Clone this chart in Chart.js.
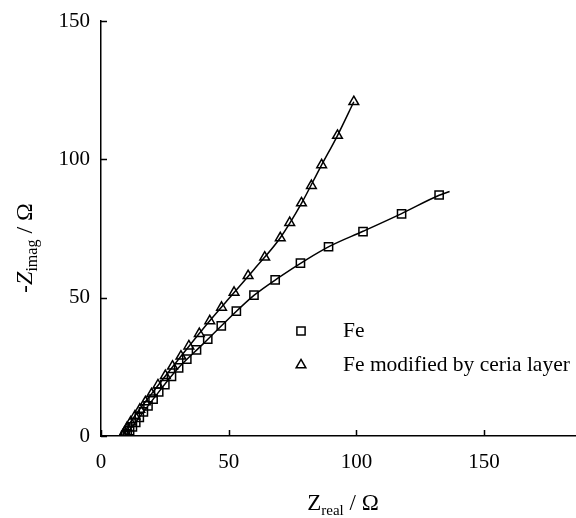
<!DOCTYPE html>
<html>
<head>
<meta charset="utf-8">
<script src="https://cdn.jsdelivr.net/npm/chart.js@4.4.1/dist/chart.umd.min.js"></script>
<style>
  html, body { margin: 0; padding: 0; background: #fff; }
  #wrap { width: 576px; height: 518px; position: relative; }
</style>
</head>
<body>
<div id="wrap"><canvas id="c" width="576" height="518"></canvas></div>
<script>
// ---- data ----
const feX = [9.6, 10.3, 11.2, 12.3, 13.6, 15.0, 16.6, 18.4, 20.4, 22.6, 25.0, 27.6, 30.4, 33.6, 37.4, 41.8, 47.1, 53.0, 59.9, 68.2, 78.1, 89.1, 102.6, 117.7, 132.4];
const feY = [0.1, 0.8, 1.9, 3.3, 4.9, 6.7, 8.7, 10.9, 13.3, 15.9, 18.6, 21.5, 24.6, 27.8, 31.1, 35.0, 39.8, 45.1, 50.9, 56.4, 62.5, 68.4, 73.9, 80.3, 87.1];
const ceX = [8.5, 9.2, 10.2, 11.6, 13.3, 15.2, 17.4, 19.8, 22.3, 25.2, 28.0, 31.3, 34.4, 38.5, 42.6, 47.2, 52.1, 57.6, 64.1, 70.2, 73.9, 78.5, 82.4, 86.4, 92.6, 99.0];
const ceY = [0.2, 1.3, 3.0, 5.0, 7.2, 9.6, 12.3, 15.2, 18.4, 21.8, 25.2, 28.8, 32.5, 37.0, 41.6, 46.5, 51.9, 57.9, 64.6, 71.6, 77.1, 84.2, 90.5, 98.0, 108.6, 120.8];
// fitted curves
const feFitX = [9.5, 13, 20, 30, 40, 50, 60, 70, 80, 90, 102.6, 117.7, 132.4, 136.5];
const feFitY = [0, 4.3, 12.8, 24.3, 33.3, 42.4, 50.9, 57.5, 63.5, 68.8, 74.0, 80.4, 87.0, 88.4];
const ceFitX = [8.5, 12, 20, 30, 40, 50, 60, 70, 78.5, 86, 92.6, 99];
const ceFitY = [0, 5.6, 15.5, 27.3, 38.8, 49.6, 60.3, 71.4, 84.1, 97.3, 108.6, 120.8];
const xTicks = [0, 50, 100, 150];
const yTicks = [0, 50, 100, 150];
const legendLabels = ['Fe', 'Fe modified by ceria layer'];

const SERIF = "'Liberation Serif', 'Times New Roman', serif";
const toPts = (xs, ys) => xs.map((x, i) => ({ x: x, y: ys[i] }));

const inwardTicks = {
  id: 'inwardTicks',
  afterDraw(chart) {
    const ctx = chart.ctx, a = chart.chartArea;
    const xs = chart.scales.x, ys = chart.scales.y;
    ctx.save();
    ctx.strokeStyle = '#000';
    ctx.lineWidth = 1.5;
    ctx.beginPath();
    xs.ticks.forEach(t => {
      const px = Math.round(xs.getPixelForValue(t.value)) + 0.5;
      ctx.moveTo(px, a.bottom);
      ctx.lineTo(px, a.bottom - 6);
    });
    ys.ticks.forEach(t => {
      const py = Math.round(ys.getPixelForValue(t.value)) + 0.5;
      ctx.moveTo(a.left, py);
      ctx.lineTo(a.left + 6, py);
    });
    ctx.stroke();

    // axis titles with subscripts
    ctx.fillStyle = '#000';
    ctx.textBaseline = 'alphabetic';
    const xCenter = 343;
    const parts = [
      { t: 'Z', f: '23px ' + SERIF, dy: 0 },
      { t: 'real', f: '15px ' + SERIF, dy: 5 },
      { t: ' / Ω', f: '23px ' + SERIF, dy: 0 }
    ];
    let w = 0;
    parts.forEach(p => { ctx.font = p.f; p.w = ctx.measureText(p.t).width; w += p.w; });
    let x0 = xCenter - w / 2;
    const baseY = 510;
    ctx.textAlign = 'left';
    parts.forEach(p => { ctx.font = p.f; ctx.fillText(p.t, x0, baseY + p.dy); x0 += p.w; });

    const yParts = [
      { t: '-', f: '24px ' + SERIF, dy: 0 },
      { t: 'Z', f: 'italic 24px ' + SERIF, dy: 0 },
      { t: 'imag', f: '16px ' + SERIF, dy: 5 },
      { t: ' / Ω', f: '24px ' + SERIF, dy: 0 }
    ];
    w = 0;
    yParts.forEach(p => { ctx.font = p.f; p.w = ctx.measureText(p.t).width; w += p.w; });
    ctx.save();
    ctx.translate(32, 248);
    ctx.rotate(-Math.PI / 2);
    let y0 = -w / 2;
    yParts.forEach(p => { ctx.font = p.f; ctx.fillText(p.t, y0, p.dy); y0 += p.w; });
    ctx.restore();

    // legend
    const ds = chart.data.datasets;
    const rows = [{ d: ds[0], y: 331 }, { d: ds[1], y: 365 }];
    rows.forEach((r, i) => {
      ctx.lineWidth = r.d.pointBorderWidth;
      ctx.strokeStyle = '#000';
      ctx.fillStyle = 'rgba(0,0,0,0)';
      Chart.helpers.drawPoint(ctx, {
        pointStyle: r.d.pointStyle, radius: r.d.pointRadius, borderWidth: r.d.pointBorderWidth, rotation: 0
      }, 301, r.y);
      ctx.fillStyle = '#000';
      ctx.font = '21.5px ' + SERIF;
      ctx.textBaseline = 'middle';
      ctx.textAlign = 'left';
      ctx.fillText(legendLabels[i], 343, r.y);
    });
    ctx.restore();
  }
};

new Chart(document.getElementById('c'), {
  type: 'scatter',
  data: {
    datasets: [
      { label: legendLabels[0], data: toPts(feX, feY), showLine: false,
        pointStyle: 'rect', pointRadius: 5.8, pointBorderWidth: 1.5,
        pointBorderColor: '#000', pointBackgroundColor: 'rgba(0,0,0,0)' },
      { label: legendLabels[1], data: toPts(ceX, ceY), showLine: false,
        pointStyle: 'triangle', pointRadius: 5.6, pointBorderWidth: 1.5,
        pointBorderColor: '#000', pointBackgroundColor: 'rgba(0,0,0,0)' },
      { label: 'fitFe', data: toPts(feFitX, feFitY), showLine: true, pointRadius: 0,
        borderColor: '#000', borderWidth: 1.5, tension: 0.4, cubicInterpolationMode: 'monotone' },
      { label: 'fitCe', data: toPts(ceFitX, ceFitY), showLine: true, pointRadius: 0,
        borderColor: '#000', borderWidth: 1.5, tension: 0.4, cubicInterpolationMode: 'monotone' }
    ]
  },
  options: {
    responsive: false,
    animation: false,
    layout: { autoPadding: false, padding: { top: 21, right: 0, left: 0, bottom: 0 } },
    plugins: { legend: { display: false }, tooltip: { enabled: false } },
    scales: {
      x: {
        type: 'linear', min: 0, max: 186,
        afterBuildTicks: s => { s.ticks = xTicks.map(v => ({ value: v })); },
        afterFit: s => { s.height = 82; s.paddingLeft = 0; s.paddingRight = 0; },
        grid: { display: false },
        border: { display: true, color: '#000', width: 1.5 },
        ticks: { color: '#000', padding: 6, maxRotation: 0, font: { family: SERIF, size: 21 } }
      },
      y: {
        type: 'linear', min: 0, max: 150,
        afterBuildTicks: s => { s.ticks = yTicks.map(v => ({ value: v })); },
        afterFit: s => { s.width = 101; s.paddingTop = 0; s.paddingBottom = 0; },
        grid: { display: false },
        border: { display: true, color: '#000', width: 1.5 },
        ticks: { color: '#000', padding: 3, font: { family: SERIF, size: 21 } }
      }
    }
  },
  plugins: [inwardTicks]
});
</script>
</body>
</html>
